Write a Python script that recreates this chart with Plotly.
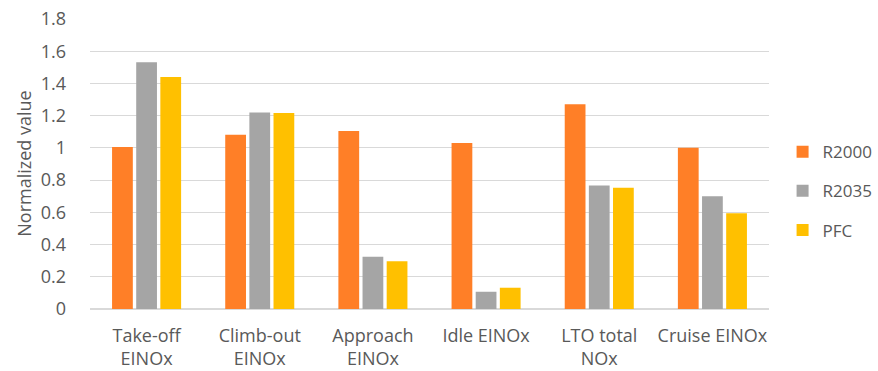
import plotly.graph_objects as go

categories = ["Take-off<br>EINOx", "Climb-out<br>EINOx", "Approach<br>EINOx", "Idle EINOx", "LTO total<br>NOx", "Cruise EINOx"]
r2000 = [1.006, 1.081, 1.104, 1.031, 1.271, 1.000]
r2035 = [1.531, 1.219, 0.324, 0.107, 0.767, 0.699]
pfc = [1.440, 1.217, 0.296, 0.132, 0.752, 0.595]
y_ticks = [0, 0.2, 0.4, 0.6, 0.8, 1.0, 1.2, 1.4, 1.6, 1.8]
y_tick_labels = ["0", "0.2", "0.4", "0.6", "0.8", "1", "1.2", "1.4", "1.6", "1.8"]

font_family = "Open Sans, Liberation Sans, sans-serif"
text_color = "#595959"
fs = 18

fig = go.Figure()
for name, vals, color in [("R2000", r2000, "#FF7F27"), ("R2035", r2035, "#A5A5A5"), ("PFC", pfc, "#FFC000")]:
    fig.add_trace(go.Bar(name=name, x=categories, y=vals, marker=dict(color=color, line=dict(width=0)), legendgroup=name))

fig.update_layout(
    width=878, height=371,
    margin=dict(l=90, r=109, t=18, b=62, autoexpand=False),
    paper_bgcolor="white", plot_bgcolor="white",
    barmode="group", bargap=0.36, bargroupgap=0.14,
    font=dict(family=font_family, size=fs, color=text_color),
    legend=dict(x=1.02, y=0.405, xanchor="left", yanchor="middle", font=dict(size=17, color=text_color),
                tracegroupgap=14, traceorder="grouped", itemwidth=30),
    showlegend=True,
)
fig.update_xaxes(automargin=False, showgrid=False, showline=True, linecolor="#D9D9D9", linewidth=1, ticks="",
                 ticklabelstandoff=10, tickfont=dict(size=fs, color=text_color))
fig.update_yaxes(automargin=False, range=[0, 1.806], tickvals=y_ticks, ticktext=y_tick_labels, showgrid=True,
                 gridcolor="#D9D9D9", gridwidth=1,
                 zeroline=True, zerolinecolor="#D9D9D9", showline=False, ticks="", ticklabelstandoff=23,
                 tickfont=dict(size=fs, color=text_color),
                 title=dict(text="Normalized value", font=dict(size=fs, color=text_color), standoff=4))

fig.write_html("out.html", config={"displayModeBar": False},
               post_script="document.body.style.margin='0px';document.body.style.overflow='hidden';")
